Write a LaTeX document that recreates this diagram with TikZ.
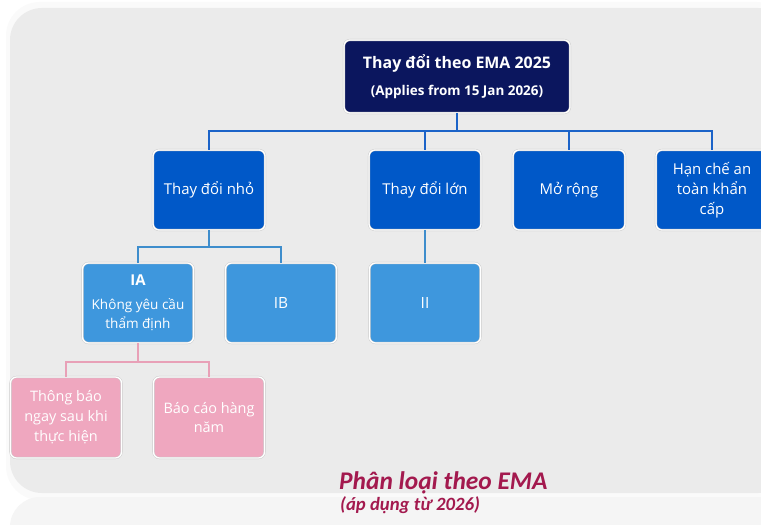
\documentclass[tikz,border=0pt]{standalone}
\usepackage{fontspec}
\setmainfont{Open Sans}
\newfontfamily\capfont{Carlito}

\definecolor{navybox}{HTML}{0B165E}
\definecolor{bluebox}{HTML}{0058C8}
\definecolor{lightbox}{HTML}{3E97DD}
\definecolor{pinkbox}{HTML}{EFA7BF}
\definecolor{busblue}{HTML}{1B63C8}
\definecolor{buslight}{HTML}{3E8DCC}
\definecolor{buspink}{HTML}{E8A0B7}
\definecolor{capred}{HTML}{A3194E}
\definecolor{panel}{HTML}{EBEBEB}

\begin{document}
\begin{tikzpicture}[x=1bp, y=-1bp,
    box/.style={rounded corners=6bp, draw=black!22, double=white, double distance=1.3bp,
                line width=0.4bp, text=white, align=center, inner sep=2bp},
    topbox/.style={box, fill=navybox, minimum width=226bp, minimum height=73bp,
                   font=\bfseries\fontsize{16}{20}\selectfont},
    midbox/.style={box, fill=bluebox, minimum width=112bp, minimum height=80bp,
                   font=\fontsize{15}{20}\selectfont},
    subbox/.style={box, fill=lightbox, minimum width=111bp, minimum height=80bp,
                   font=\fontsize{13.6}{19.5}\selectfont},
    notebox/.style={box, fill=pinkbox, minimum width=111bp, minimum height=81bp,
                    font=\fontsize{14.5}{20}\selectfont},
    link/.style={line width=2.4bp, busblue},
    sublink/.style={line width=2.4bp, buslight},
    notelink/.style={line width=2bp, buspink}]
    \useasboundingbox (0,0) rectangle (761,525);

    % background panel and its reflection
    \fill[white] (0,0) rectangle (761,525);
    \fill[black!2, rounded corners=34bp] (6,2) rectangle (790,500);
    \fill[black!4, rounded corners=30bp] (10,497) rectangle (790,560);
    \fill[panel, rounded corners=32bp] (10,8) rectangle (790,493);

    % bus levels
    \coordinate (bus1) at (0,131);
    \coordinate (bus2) at (0,247);
    \coordinate (bus3) at (0,362);

    % boxes
    \node[topbox] (ema) at (457,76.5) {Thay đổi theo EMA 2025\\[7bp]{\fontsize{13.5}{15}\selectfont(Applies from 15 Jan 2026)}};
    \node[midbox] (nho) at (209,190) {Thay đổi nhỏ};
    \node[midbox] (lon) at (425,190) {Thay đổi lớn};
    \node[midbox] (morong) at (569,190) {Mở rộng};
    \node[midbox] (hanche) at (712,190) {Hạn chế an\\toàn khẩn\\cấp};

    \node[subbox] (ia) at (138,303) {{\bfseries\fontsize{15}{18}\selectfont IA}\\[4bp]Không yêu cầu\\thẩm định};
    \node[subbox] (ib) at (281,303) {\fontsize{15.5}{18}\selectfont IB};
    \node[subbox] (ii) at (425,303) {\fontsize{15.5}{18}\selectfont II};

    \node[notebox] (thongbao) at (66,417.5) {Thông báo\\ngay sau khi\\thực hiện};
    \node[notebox] (baocao) at (209,417.5) {Báo cáo hàng\\năm};

    % connectors
    \draw[link] (ema.south) -- (ema.south |- bus1);
    \draw[link] (nho.north) -- (nho.north |- bus1) -- (hanche.north |- bus1) -- (hanche.north);
    \draw[link] (lon.north) -- (lon.north |- bus1);
    \draw[link] (morong.north) -- (morong.north |- bus1);

    \draw[sublink] (nho.south) -- (nho.south |- bus2);
    \draw[sublink] (ia.north) -- (ia.north |- bus2) -- (ib.north |- bus2) -- (ib.north);
    \draw[sublink] (lon.south) -- (ii.north);

    \draw[notelink] (ia.south) -- (ia.south |- bus3);
    \draw[notelink] (thongbao.north) -- (thongbao.north |- bus3) -- (baocao.north |- bus3) -- (baocao.north);

    % caption
    \node[anchor=base west, inner sep=0, text=capred, font=\capfont\bfseries\itshape\fontsize{25.5}{28}\selectfont] (cap) at (339,489) {Phân loại theo EMA};
    \node[anchor=base west, inner sep=0, text=capred, font=\capfont\bfseries\itshape\fontsize{18.8}{20}\selectfont] (capsub) at (340,510) {(áp dụng từ 2026)};
\end{tikzpicture}
\end{document}
